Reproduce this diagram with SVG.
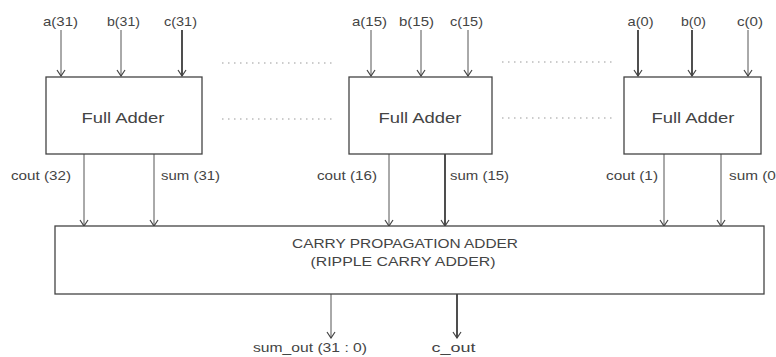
<svg xmlns="http://www.w3.org/2000/svg" width="776" height="357" viewBox="0 0 776 357">
<defs>
<style>
.t{font-family:"Liberation Sans",Arial,sans-serif;font-size:13px;fill:#444;text-anchor:middle}
.fa{font-size:15px}
.box{fill:#fff;stroke:#444;stroke-width:1.3}
.w{stroke:#555;stroke-width:1;fill:none}
.d{stroke:#222;stroke-width:1.6;fill:none}
.dot{stroke:#999;stroke-width:1.2;stroke-dasharray:1.5 4.5;fill:none}
</style>
<marker id="ah" viewBox="-7 -5 8 10" markerWidth="8" markerHeight="10" refX="0" refY="0" markerUnits="userSpaceOnUse" orient="auto">
<path d="M-6,-4 L0,0 L-6,4" fill="none" stroke="#444" stroke-width="1.2"/>
</marker>
</defs>
<rect width="776" height="357" fill="#fff"/>

<g id="dots">
<line class="dot" x1="222" y1="63" x2="336" y2="63"/>
<line class="dot" x1="222" y1="119" x2="336" y2="119"/>
<line class="dot" x1="502" y1="62" x2="614" y2="62"/>
<line class="dot" x1="502" y1="118" x2="614" y2="118"/>
</g>

<g id="connectors">
<line class="w" x1="61" y1="30" x2="61" y2="76" marker-end="url(#ah)"/>
<line class="w" x1="121" y1="30" x2="121" y2="76" marker-end="url(#ah)"/>
<line class="d" x1="182" y1="30" x2="182" y2="76" marker-end="url(#ah)"/>
<line class="w" x1="371" y1="30" x2="371" y2="76" marker-end="url(#ah)"/>
<line class="w" x1="421" y1="30" x2="421" y2="76" marker-end="url(#ah)"/>
<line class="w" x1="468" y1="30" x2="468" y2="76" marker-end="url(#ah)"/>
<line class="d" x1="638" y1="30" x2="638" y2="76" marker-end="url(#ah)"/>
<line class="d" x1="692" y1="30" x2="692" y2="76" marker-end="url(#ah)"/>
<line class="w" x1="748" y1="30" x2="748" y2="76" marker-end="url(#ah)"/>

<line class="w" x1="84" y1="154" x2="84" y2="226" marker-end="url(#ah)"/>
<line class="w" x1="154" y1="154" x2="154" y2="226" marker-end="url(#ah)"/>
<line class="w" x1="389" y1="154" x2="389" y2="226" marker-end="url(#ah)"/>
<line class="d" x1="445" y1="154" x2="445" y2="226" marker-end="url(#ah)"/>
<line class="w" x1="664" y1="154" x2="664" y2="226" marker-end="url(#ah)"/>
<line class="w" x1="721" y1="154" x2="721" y2="226" marker-end="url(#ah)"/>

<line class="w" x1="331" y1="294" x2="331" y2="338" marker-end="url(#ah)"/>
<line class="d" x1="457" y1="294" x2="457" y2="338" marker-end="url(#ah)"/>
</g>

<g id="fa31">
<rect class="box" x="46" y="77" width="156" height="77"/>
<text class="t fa" x="123" y="123" textLength="83" lengthAdjust="spacingAndGlyphs">Full Adder</text>
</g>
<g id="fa15">
<rect class="box" x="349" y="77" width="143" height="77"/>
<text class="t fa" x="420" y="123" textLength="83" lengthAdjust="spacingAndGlyphs">Full Adder</text>
</g>
<g id="fa0">
<rect class="box" x="624" y="77" width="137" height="77"/>
<text class="t fa" x="693" y="123" textLength="83" lengthAdjust="spacingAndGlyphs">Full Adder</text>
</g>
<g id="cpa">
<rect class="box" x="55" y="226" width="709" height="68"/>
<text class="t" x="405" y="248" textLength="226" lengthAdjust="spacingAndGlyphs">CARRY PROPAGATION ADDER</text>
<text class="t" x="403" y="266" textLength="185" lengthAdjust="spacingAndGlyphs">(RIPPLE CARRY ADDER)</text>
</g>

<g id="labels">
<text class="t" x="60.5" y="26" textLength="35" lengthAdjust="spacingAndGlyphs">a(31)</text>
<text class="t" x="123.5" y="26" textLength="33" lengthAdjust="spacingAndGlyphs">b(31)</text>
<text class="t" x="180.5" y="26" textLength="33" lengthAdjust="spacingAndGlyphs">c(31)</text>
<text class="t" x="369.5" y="26" textLength="35" lengthAdjust="spacingAndGlyphs">a(15)</text>
<text class="t" x="416.5" y="26" textLength="35" lengthAdjust="spacingAndGlyphs">b(15)</text>
<text class="t" x="466.5" y="26" textLength="33" lengthAdjust="spacingAndGlyphs">c(15)</text>
<text class="t" x="640.5" y="26" textLength="26" lengthAdjust="spacingAndGlyphs">a(0)</text>
<text class="t" x="693.5" y="26" textLength="25" lengthAdjust="spacingAndGlyphs">b(0)</text>
<text class="t" x="750" y="26" textLength="26" lengthAdjust="spacingAndGlyphs">c(0)</text>

<text class="t" x="41" y="180" textLength="60" lengthAdjust="spacingAndGlyphs">cout (32)</text>
<text class="t" x="190.5" y="180" textLength="59" lengthAdjust="spacingAndGlyphs">sum (31)</text>
<text class="t" x="347" y="180" textLength="60" lengthAdjust="spacingAndGlyphs">cout (16)</text>
<text class="t" x="479.5" y="180" textLength="59" lengthAdjust="spacingAndGlyphs">sum (15)</text>
<text class="t" x="632" y="180" textLength="52" lengthAdjust="spacingAndGlyphs">cout (1)</text>
<text class="t" x="755" y="180" textLength="52" lengthAdjust="spacingAndGlyphs">sum (0)</text>

<text class="t" x="310" y="352" textLength="114" lengthAdjust="spacingAndGlyphs">sum_out (31 : 0)</text>
<text class="t" x="453.5" y="352" textLength="44" lengthAdjust="spacingAndGlyphs">c_out</text>
</g>
</svg>
